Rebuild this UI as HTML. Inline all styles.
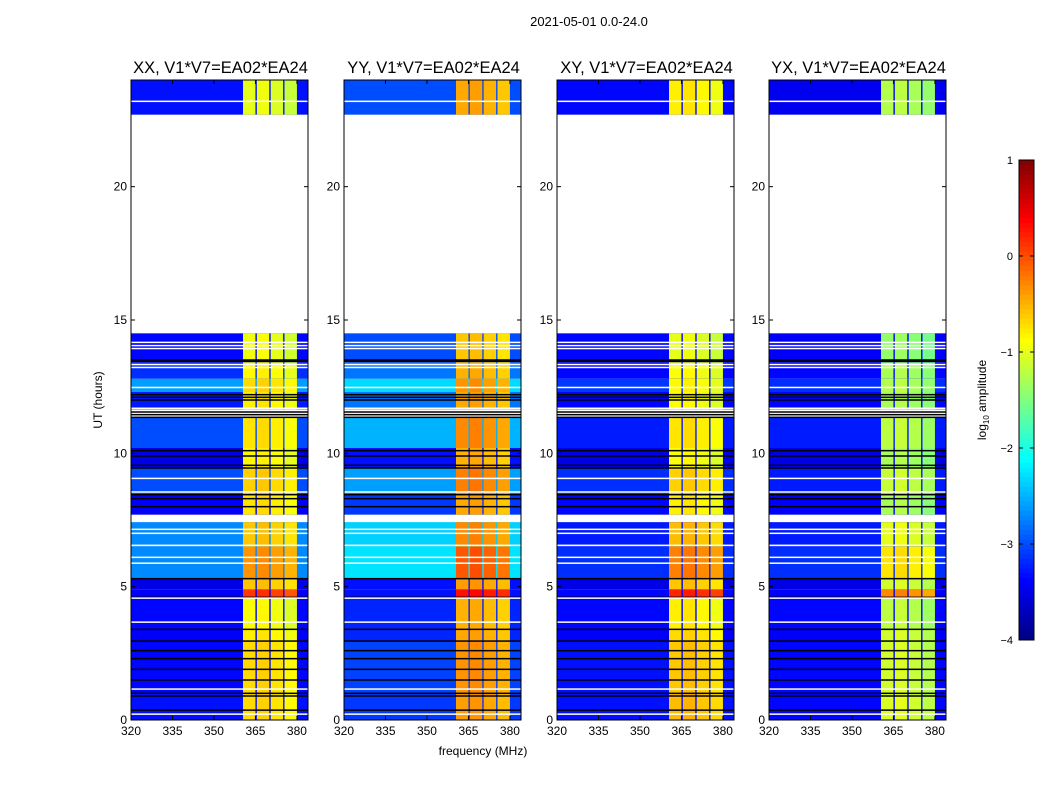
<!DOCTYPE html>
<html><head><meta charset="utf-8"><style>
body{margin:0;background:#fff}
svg{display:block;font-family:"Liberation Sans",sans-serif}
</style></head><body>
<svg id="chart" width="1050" height="800" viewBox="0 0 1050 800">
<text x="589" y="26" font-size="13" text-anchor="middle">2021-05-01 0.0-24.0</text>
<text x="483" y="755" font-size="12" text-anchor="middle">frequency (MHz)</text>
<text transform="translate(102,400) rotate(-90)" font-size="12" text-anchor="middle">UT (hours)</text>
<g id="panels"></g>
<g id="cbar"></g>
<text transform="translate(986,400) rotate(-90)" font-size="12" text-anchor="middle">log<tspan font-size="8" dy="3">10</tspan><tspan dy="-3"> amplitude</tspan></text>
</svg>
<script>
const pols = ["XX","YY","XY","YX"];
const panelTitles = ["XX, V1*V7=EA02*EA24","YY, V1*V7=EA02*EA24","XY, V1*V7=EA02*EA24","YX, V1*V7=EA02*EA24"];
const segStart = [0,1.0,2.96,3.4,4.57,4.9,5.3,6.5,7.7,8.5,9.45,10.2,11.65,12.3,12.8,13.4,22.7];
const segEnd   = [1.0,2.96,3.4,4.57,4.9,5.3,6.5,7.42,8.5,9.45,10.2,11.35,12.3,12.8,13.4,14.5,24];
const bgXX = [-3.3,-3.35,-3.4,-3.35,-3.4,-3.5,-2.7,-2.7,-3.4,-3.0,-3.5,-3.0,-3.25,-2.6,-3.15,-3.35,-3.3];
const bgYY = [-3.1,-3.05,-3.2,-3.2,-3.3,-3.3,-2.25,-2.35,-3.1,-2.6,-3.3,-2.5,-2.8,-2.3,-2.8,-3.0,-3.0];
const bgXY = [-3.3,-3.3,-3.4,-3.35,-3.35,-3.5,-3.15,-3.25,-3.35,-3.15,-3.5,-3.25,-3.35,-3.1,-3.35,-3.35,-3.35];
const bgYX = [-3.35,-3.35,-3.4,-3.35,-3.4,-3.5,-3.15,-3.25,-3.4,-3.25,-3.5,-3.25,-3.35,-3.15,-3.35,-3.4,-3.45];
const bandXX = [-0.7,-0.7,-0.8,-0.9,0.1,-0.6,-0.35,-0.6,-0.75,-0.65,-0.85,-0.75,-0.8,-0.7,-0.85,-0.95,-1.0];
const bandYY = [-0.4,-0.35,-0.45,-0.5,0.3,-0.4,-0.05,-0.3,-0.45,-0.25,-0.5,-0.3,-0.45,-0.35,-0.5,-0.6,-0.45];
const bandXY = [-0.55,-0.6,-0.7,-0.8,0.2,-0.6,-0.25,-0.55,-0.8,-0.65,-0.9,-0.75,-0.9,-0.85,-0.9,-1.0,-0.8];
const bandYX = [-1.05,-1.1,-1.1,-1.2,-0.3,-1.1,-0.75,-1.0,-1.3,-1.15,-1.3,-1.2,-1.3,-1.25,-1.3,-1.4,-1.25];
const chanStart = [360.5,365.5,370.5,375.5];
const chanEnd = [365.0,370.0,375.0,380.0];
const chanOffset = [0,0.05,-0.05,-0.15];
const blackLines = [0.37,0.9,1.0,1.5,1.9,2.3,2.6,2.96,3.4,4.6,5.3,8.0,8.3,8.45,9.45,9.55,9.9,10.1,11.35,11.45,11.55,12.0,12.1,12.2,13.45,13.5];
const whiteLines = [0.22,1.16,3.67,4.57,5.88,6.1,6.55,7.0,7.15,8.55,9.06,11.69,12.47,13.22,13.33,13.93,14.04,14.16,23.2];
const xTicks = [320,335,350,365,380];
const yTicks = [0,5,10,15,20];
const cbTicks = [1,0,-1,-2,-3,-4];
const panelLeft = [131,344,557,769];

const NS="http://www.w3.org/2000/svg";
const PW=177, PT=80, PB=720, FMIN=320, FMAX=384, HMAX=24, VMIN=-4, VMAX=1;
function xs(f,i){return panelLeft[i]+(f-FMIN)/(FMAX-FMIN)*PW;}
function ys(h){return PB-(h/HMAX)*(PB-PT);}
function jet(v){let t=(v-VMIN)/(VMAX-VMIN);t=Math.max(0,Math.min(1,t));
 const c=x=>Math.round(255*Math.max(0,Math.min(1,x)));
 return `rgb(${c(1.5-Math.abs(4*t-3))},${c(1.5-Math.abs(4*t-2))},${c(1.5-Math.abs(4*t-1))})`;}
function el(tag,attrs,parent){const e=document.createElementNS(NS,tag);for(const k in attrs)e.setAttribute(k,attrs[k]);parent.appendChild(e);return e;}
const bgs={XX:bgXX,YY:bgYY,XY:bgXY,YX:bgYX};
const bands={XX:bandXX,YY:bandYY,XY:bandXY,YX:bandYX};
const panels=document.getElementById("panels");
pols.forEach((p,i)=>{
 const g=el("g",{},panels);
 
 
 const L=panelLeft[i];
 segStart.forEach((s,k)=>{
  const e=segEnd[k];
  const r=el("rect",{x:L,y:ys(e),width:PW,height:ys(s)-ys(e),fill:jet(bgs[p][k])},g);
  
  
  chanStart.forEach((cs,j)=>{
   const c=el("rect",{x:xs(cs,i),y:ys(e),width:xs(chanEnd[j],i)-xs(cs,i),height:ys(s)-ys(e),fill:jet(bands[p][k]+chanOffset[j])},g);
   
   
  });
 });
 blackLines.forEach(h=>{
  const l=el("rect",{x:L,y:ys(h)-0.75,width:PW,height:1.5,fill:"#000"},g);
  
  
 });
 whiteLines.forEach(h=>{
  const l=el("rect",{x:L,y:ys(h)-0.75,width:PW,height:1.5,fill:"#fff"},g);
  
  
 });
 const fr=el("rect",{x:L,y:PT,width:PW,height:PB-PT,fill:"none",stroke:"#000","stroke-width":1},g);
 
 
 const t=el("text",{x:L+PW/2+1,y:73,"font-size":16.5,"text-anchor":"middle"},g);
 t.textContent=panelTitles[i];
 
 
 xTicks.forEach(v=>{
  const x=xs(v,i);
  el("line",{x1:x,x2:x,y1:PB,y2:PB-4,stroke:"#000"},g);
  el("line",{x1:x,x2:x,y1:PT,y2:PT+4,stroke:"#000"},g);
  const tl=el("text",{x:x,y:735,"font-size":12,"text-anchor":"middle"},g);
  tl.textContent=v;
  
  
 });
 yTicks.forEach(v=>{
  const y=ys(v);
  el("line",{x1:L,x2:L+4,y1:y,y2:y,stroke:"#000"},g);
  el("line",{x1:L+PW,x2:L+PW-4,y1:y,y2:y,stroke:"#000"},g);
  const tl=el("text",{x:L-4,y:y+4,"font-size":12,"text-anchor":"end"},g);
  tl.textContent=v;
  
  
 });
});
const cb=document.getElementById("cbar");
const CX=1019,CW=15,CT=160,CB=640,N=100;
for(let k=0;k<N;k++){
 const v0=VMIN+(VMAX-VMIN)*k/N, v1=VMIN+(VMAX-VMIN)*(k+1)/N;
 const yy=CB-(v1-VMIN)/(VMAX-VMIN)*(CB-CT);
 const r=el("rect",{x:CX,y:yy,width:CW,height:(CB-CT)/N+0.5,fill:jet((v0+v1)/2)},cb);
 
 
}
el("rect",{x:CX,y:CT,width:CW,height:CB-CT,fill:"none",stroke:"#000"},cb);
cbTicks.forEach(v=>{
 const y=CB-(v-VMIN)/(VMAX-VMIN)*(CB-CT);
 el("line",{x1:CX,x2:CX+4,y1:y,y2:y,stroke:"#000"},cb);
 el("line",{x1:CX+CW,x2:CX+CW-4,y1:y,y2:y,stroke:"#000"},cb);
 const t=el("text",{x:1013,y:y+4,"font-size":11,"text-anchor":"end"},cb);
 t.textContent=v<0?"\u2212"+(-v):String(v);
 
 
});
</script>
</body></html>
